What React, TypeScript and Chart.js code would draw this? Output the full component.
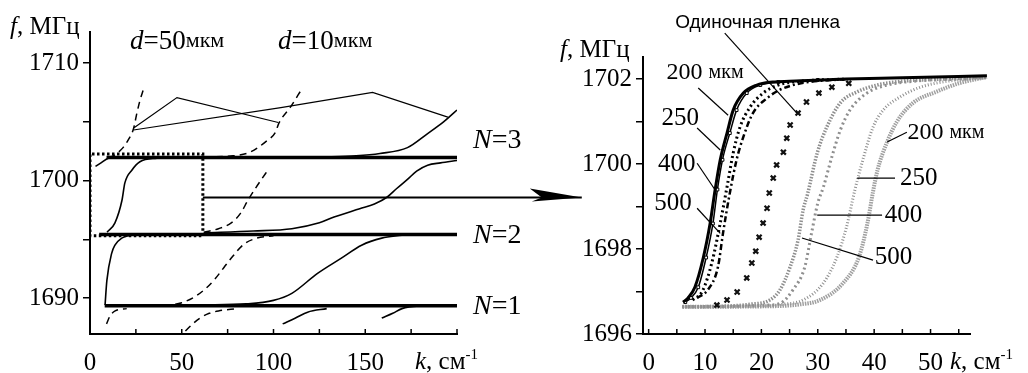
import React, { useEffect, useRef } from "react";
import { Chart, registerables } from "chart.js";
Chart.register(...registerables);

// ---------------- Left panel data (k, см^-1 ; f, МГц) ----------------
const L_X_TICKS = [0, 25, 50, 75, 100, 125, 150, 175, 200];
const L_X_LABELS = [0, 50, 100, 150];
const L_Y_TICKS = [1690, 1695, 1700, 1705, 1710];
const L_Y_LABELS = [1690, 1700, 1710];

const n3K = [9, 200];
const n3F = [1701.95, 1701.95];
const n2K = [5, 200];
const n2F = [1695.4, 1695.4];
const n1K = [8, 200];
const n1F = [1689.35, 1689.35];

const rectK = [61.5, 61.5, 0, 0, 61.5];
const rectF = [1695.3, 1702.25, 1702.25, 1695.3, 1695.3];

const arrowK = [61.5, 268];
const arrowF = [1698.55, 1698.55];

const s1K = [8.2, 9.2, 11.8, 13.6, 17.3, 23.6];
const s1F = [1689.4, 1691.5, 1693.8, 1694.5, 1695.1, 1695.4];
const s2K = [9.3, 13.6, 17.4, 19, 22.9, 27.2, 36.5, 50];
const s2F = [1695.6, 1696.4, 1698.3, 1699.8, 1700.9, 1701.6, 1701.9, 1702.0];
const s3K = [3, 6, 10, 14];
const s3F = [1701.2, 1701.5, 1701.9, 1702.0];
const d1K = [10, 12.6, 18, 21, 23.7, 25.5, 27.2, 29];
const d1F = [1702.0, 1702.1, 1702.8, 1703.5, 1704.4, 1705.7, 1706.8, 1707.7];
const l1K = [24, 47.4, 102.6];
const l1F = [1704.5, 1707.06, 1704.94];
const l2K = [23.7, 104, 154, 195];
const l2F = [1704.3, 1706.2, 1707.5, 1705.4];
const d2K = [62, 78, 87, 96.5, 101, 103, 109, 115.5];
const d2F = [1702.0, 1702.1, 1702.4, 1703.4, 1704.1, 1704.9, 1706.2, 1707.8];
const s4K = [125, 145, 158, 173, 184, 192, 200];
const s4F = [1702.0, 1702.1, 1702.3, 1702.8, 1704.0, 1704.9, 1706.0];
const s5K = [62, 89, 110, 125, 133, 147, 155, 162, 167, 173, 178, 184, 191, 200];
const s5F = [1695.55, 1695.7, 1695.9, 1696.4, 1696.9, 1697.6, 1698.0, 1698.6, 1699.3, 1700.1, 1700.8, 1701.3, 1701.5, 1701.7];
const d3K = [62, 70, 77, 82, 86, 90, 93, 97];
const d3F = [1695.6, 1695.9, 1696.4, 1697.2, 1698.3, 1699.3, 1700.0, 1700.9];
const s6K = [60, 85, 100, 110, 124, 137, 148, 159, 170];
const s6F = [1689.4, 1689.5, 1689.8, 1690.4, 1692.1, 1693.4, 1694.5, 1695.1, 1695.35];
const d4K = [40, 50, 57, 63, 68, 73, 77, 84, 91, 100];
const d4F = [1689.3, 1689.6, 1690.1, 1690.8, 1691.6, 1692.6, 1693.4, 1694.6, 1695.1, 1695.3];
const d5K = [9, 11, 13.7, 20];
const d5F = [1687.8, 1688.5, 1688.9, 1689.1];
const d6K = [52, 56, 60, 65, 70, 80];
const d6F = [1687.2, 1687.8, 1688.3, 1688.7, 1688.9, 1689.1];
const s7K = [105, 112, 118.6, 129];
const s7F = [1687.8, 1688.3, 1688.8, 1689.1];
const s8K = [159, 165, 170, 184];
const s8F = [1688.3, 1688.7, 1689.1, 1689.4];

// ---------------- Right panel data ----------------
const R_X_TICKS = [0, 5, 10, 15, 20, 25, 30, 35, 40, 45, 50, 55];
const R_X_LABELS = [0, 10, 20, 30, 40, 50];
const R_Y_TICKS = [1696, 1697, 1698, 1699, 1700, 1701, 1702];
const R_Y_LABELS = [1696, 1698, 1700, 1702];

const b200K = [6.1, 7, 8.2, 9.7, 10.9, 11.8, 12.7, 13.9, 15.0, 16.8, 19.2, 22, 25, 35, 45, 60];
const b200F = [1696.75, 1696.85, 1697.1, 1697.8, 1698.6, 1699.4, 1700.1, 1700.73, 1701.27, 1701.67, 1701.86, 1701.93, 1701.95, 1702.0, 1702.03, 1702.08];
const b250K = [6.5, 7.5, 8.8, 10.2, 11.4, 12.2, 13.1, 14.4, 15.6, 17.4, 19.8, 23, 30];
const b250F = [1696.75, 1696.85, 1697.1, 1697.8, 1698.6, 1699.4, 1700.1, 1700.73, 1701.27, 1701.67, 1701.86, 1701.93, 1701.98];
const b400K = [7.8, 9.5, 11.2, 12.7, 13.9, 15.0, 16.2, 18.0, 20.3, 23, 27, 35];
const b400F = [1696.8, 1697.0, 1697.67, 1698.61, 1699.46, 1700.26, 1700.87, 1701.34, 1701.67, 1701.86, 1701.95, 1702.0];
const b500K = [8.6, 10.5, 12.3, 13.2, 14.4, 15.6, 16.8, 18.5, 21, 23.3, 27, 35];
const b500F = [1696.85, 1697.04, 1697.58, 1698.38, 1699.32, 1700.1, 1700.64, 1701.2, 1701.55, 1701.75, 1701.9, 1702.0];
const singleK = [12.1, 13.9, 15.7, 17.4, 18.3, 19.0, 19.6, 20.3, 21.0, 21.4, 22.1, 22.7, 23.9, 24.5, 25.1, 26.5, 28.0, 30.2, 32.5, 35.5];
const singleF = [1696.68, 1696.8, 1696.99, 1697.32, 1697.67, 1697.95, 1698.28, 1698.61, 1698.96, 1699.32, 1699.67, 1699.98, 1700.28, 1700.61, 1700.92, 1701.2, 1701.46, 1701.67, 1701.81, 1701.9];
const g500K = [6, 12, 18, 21.5, 23.3, 25.1, 26.5, 27.4, 28.2, 29.9, 31.6, 34, 37, 40.5, 45, 52, 60];
const g500F = [1696.64, 1696.65, 1696.7, 1696.8, 1697.04, 1697.58, 1698.21, 1698.92, 1699.3, 1700.26, 1700.87, 1701.44, 1701.7, 1701.86, 1701.95, 1702.0, 1702.05];
const g400K = [6, 15, 21, 23.3, 25.6, 27.7, 28.9, 30, 31, 32.5, 34, 35.7, 38.7, 42, 48, 55, 60];
const g400F = [1696.64, 1696.65, 1696.68, 1696.72, 1697.04, 1697.58, 1698.38, 1699.08, 1699.46, 1700.17, 1700.8, 1701.27, 1701.67, 1701.85, 1701.96, 1702.0, 1702.04];
const g250K = [6, 18, 24, 27.4, 31, 33.4, 35.1, 36.6, 38, 39.8, 41.6, 44.6, 48, 53, 60];
const g250F = [1696.64, 1696.65, 1696.7, 1696.8, 1697.2, 1697.81, 1698.52, 1699.4, 1700.1, 1700.87, 1701.27, 1701.58, 1701.8, 1701.95, 1702.03];
const g200K = [6, 20, 27, 30.4, 34.5, 37.3, 38.8, 39.8, 40.6, 42.3, 44, 46.9, 51, 55, 60];
const g200F = [1696.64, 1696.65, 1696.7, 1696.8, 1697.2, 1697.81, 1698.6, 1699.35, 1699.86, 1700.52, 1700.99, 1701.44, 1701.7, 1701.9, 1702.05];

// callout leader lines [k0, k1], [f0, f1]
const cSingleK = [13.5, 26.3];
const cSingleF = [1703.08, 1701.2];
const c200K = [8.8, 14.1];
const c200F = [1701.79, 1701.15];
const c250K = [8.6, 12.7];
const c250F = [1700.85, 1700.33];
const c400K = [8.6, 11.8];
const c400F = [1700.02, 1699.39];
const c500K = [8.6, 12.7];
const c500F = [1698.96, 1698.37];
const cg200K = [45.8, 42.3];
const cg200F = [1700.75, 1700.52];
const cg250K = [37.0, 43.7];
const cg250F = [1699.67, 1699.67];
const cg400K = [29.9, 41.4];
const cg400F = [1698.8, 1698.8];
const cg500K = [27.2, 39.8];
const cg500F = [1698.26, 1697.74];

const SERIF = '"Liberation Serif", "Times New Roman", serif';
const SANS = '"Liberation Sans", Arial, sans-serif';

type Part = { t: string; it?: boolean; size?: number; dy?: number; fam?: string };

function drawParts(ctx: CanvasRenderingContext2D, x: number, y: number, parts: Part[], align: string) {
  const font = (p: Part) => `${p.it ? "italic " : ""}${p.size || 25}px ${p.fam || SERIF}`;
  let total = 0;
  const widths = parts.map((p) => {
    ctx.font = font(p);
    const w = ctx.measureText(p.t).width;
    total += w;
    return w;
  });
  let cx = align === "center" ? x - total / 2 : align === "right" ? x - total : x;
  ctx.textBaseline = "middle";
  ctx.textAlign = "left";
  ctx.fillStyle = "#000";
  parts.forEach((p, i) => {
    ctx.font = font(p);
    ctx.fillText(p.t, cx, y + (p.dy || 0));
    cx += widths[i];
  });
}

const pts = (k: number[], f: number[]) => k.map((x, i) => ({ x, y: f[i] }));

function line(k: number[], f: number[], opts: any = {}) {
  return {
    data: pts(k, f),
    showLine: true,
    pointRadius: 0,
    borderColor: "#000",
    backgroundColor: "#000",
    borderWidth: 1.5,
    cubicInterpolationMode: "monotone",
    ...opts,
  };
}

function axes(xmin: number, xmax: number, ymin: number, ymax: number, xt: number[], xl: number[], yt: number[], yl: number[], yWidth: number) {
  return {
    x: {
      type: "linear",
      min: xmin,
      max: xmax,
      afterBuildTicks: (s: any) => {
        s.ticks = xt.map((v) => ({ value: v }));
      },
      afterFit: (s: any) => {
        s.height = 39;
      },
      ticks: {
        autoSkip: false,
        maxRotation: 0,
        padding: 14,
        color: "#000",
        font: { family: SERIF, size: 25 },
        callback: (v: number) => (xl.includes(v) ? String(v) : ""),
      },
      grid: { display: true, drawOnChartArea: false, drawTicks: false, color: "#000" },
      border: { display: true, color: "#000", width: 2 },
    },
    y: {
      type: "linear",
      min: ymin,
      max: ymax,
      afterBuildTicks: (s: any) => {
        s.ticks = yt.map((v) => ({ value: v }));
      },
      afterFit: (s: any) => {
        s.width = yWidth;
      },
      ticks: {
        autoSkip: false,
        padding: 4,
        color: "#000",
        font: { family: SERIF, size: 25 },
        callback: (v: number) => (yl.includes(v) ? String(v) : ""),
      },
      grid: { display: true, drawOnChartArea: false, drawTicks: true, tickLength: 7, color: "#000", lineWidth: 1.5 },
      border: { display: true, color: "#000", width: 2 },
    },
  };
}

function innerXTicks(chart: any, ticks: number[]) {
  const ctx = chart.ctx;
  const x = chart.scales.x;
  const b = chart.chartArea.bottom;
  ctx.save();
  ctx.strokeStyle = "#000";
  ctx.lineWidth = 1.5;
  ticks.forEach((v) => {
    const px = x.getPixelForValue(v);
    ctx.beginPath();
    ctx.moveTo(px, b);
    ctx.lineTo(px, b - 5);
    ctx.stroke();
  });
  ctx.restore();
}

function LeftChart() {
  const ref = useRef<HTMLCanvasElement>(null);
  useEffect(() => {
    const solid = { borderWidth: 1.6 };
    const dashed = { borderWidth: 1.5, borderDash: [7, 5] };
    const plugin = {
      id: "leftDeco",
      afterDatasetsDraw(chart: any) {
        const ctx = chart.ctx;
        const xs = chart.scales.x;
        const ys = chart.scales.y;
        const ca = chart.chartArea;
        innerXTicks(chart, L_X_TICKS);
        const tx = xs.getPixelForValue(arrowK[1]);
        const ty = ys.getPixelForValue(arrowF[1]);
        ctx.save();
        ctx.fillStyle = "#000";
        ctx.beginPath();
        ctx.moveTo(tx, ty);
        ctx.lineTo(tx - 52, ty - 9);
        ctx.lineTo(tx - 40, ty);
        ctx.lineTo(tx - 50, ty + 4);
        ctx.closePath();
        ctx.fill();
        ctx.restore();
        const P = (k: number, f: number) => [xs.getPixelForValue(k), ys.getPixelForValue(f)];
        ctx.save();
        let [x, y] = P(21.8, 1711.83);
        drawParts(ctx, x, y, [{ t: "d", it: true, size: 27 }, { t: "=50", size: 27 }, { t: "мкм", size: 22 }], "left");
        [x, y] = P(102.5, 1711.83);
        drawParts(ctx, x, y, [{ t: "d", it: true, size: 27 }, { t: "=10", size: 27 }, { t: "мкм", size: 22 }], "left");
        [x, y] = P(208.7, 1703.4);
        drawParts(ctx, x, y, [{ t: "N", it: true, size: 28 }, { t: "=3", size: 28 }], "left");
        [x, y] = P(208.7, 1695.3);
        drawParts(ctx, x, y, [{ t: "N", it: true, size: 28 }, { t: "=2", size: 28 }], "left");
        [x, y] = P(208.7, 1689.3);
        drawParts(ctx, x, y, [{ t: "N", it: true, size: 28 }, { t: "=1", size: 28 }], "left");
        drawParts(ctx, ca.left - 80, ca.top - 5, [{ t: "f", it: true }, { t: ", МГц" }], "left");
        drawParts(ctx, ca.right - 42, ca.bottom + 28, [{ t: "k", it: true }, { t: ", см" }, { t: "-1", size: 15, dy: -7 }], "left");
        ctx.restore();
      },
    };
    const chart = new Chart(ref.current as HTMLCanvasElement, {
      type: "scatter",
      data: {
        datasets: [
          line(n3K, n3F, { borderWidth: 3.5 }),
          line(n2K, n2F, { borderWidth: 3.5 }),
          line(n1K, n1F, { borderWidth: 3.5 }),
          line(rectK, rectF, { borderWidth: 3, borderDash: [2.5, 2.5], cubicInterpolationMode: "default", tension: 0 }),
          line(arrowK, arrowF, { borderWidth: 2, clip: false, cubicInterpolationMode: "default" }),
          line(s1K, s1F, solid),
          line(s2K, s2F, solid),
          line(s3K, s3F, solid),
          line(d1K, d1F, dashed),
          line(l1K, l1F, { borderWidth: 1.2, cubicInterpolationMode: "default", tension: 0 }),
          line(l2K, l2F, { borderWidth: 1.2, cubicInterpolationMode: "default", tension: 0 }),
          line(d2K, d2F, dashed),
          line(s4K, s4F, solid),
          line(s5K, s5F, solid),
          line(d3K, d3F, dashed),
          line(s6K, s6F, solid),
          line(d4K, d4F, dashed),
          line(d5K, d5F, dashed),
          line(d6K, d6F, dashed),
          line(s7K, s7F, solid),
          line(s8K, s8F, solid),
        ],
      },
      options: {
        animation: false,
        responsive: false,
        events: [],
        layout: { padding: { top: 32, right: 143, left: 0, bottom: 0 } },
        plugins: { legend: { display: false }, tooltip: { enabled: false } },
        scales: axes(0, 200, 1686.94, 1712.64, L_X_TICKS, L_X_LABELS, L_Y_TICKS, L_Y_LABELS, 90) as any,
      } as any,
      plugins: [plugin],
    });
    return () => chart.destroy();
  }, []);
  return <canvas ref={ref} width={600} height={373} style={{ position: "absolute", left: 0, top: 0, width: 600, height: 373 }} />;
}

function RightChart() {
  const ref = useRef<HTMLCanvasElement>(null);
  useEffect(() => {
    const gray = "#8f8f8f";
    const lead = { borderWidth: 1.2, clip: false, cubicInterpolationMode: "default", tension: 0 };
    const plugin = {
      id: "rightDeco",
      afterDatasetsDraw(chart: any) {
        const ctx = chart.ctx;
        const xs = chart.scales.x;
        const ys = chart.scales.y;
        const ca = chart.chartArea;
        innerXTicks(chart, R_X_TICKS);
        const P = (k: number, f: number) => [xs.getPixelForValue(k), ys.getPixelForValue(f)];
        ctx.save();
        let [x, y] = P(4.7, 1703.32);
        drawParts(ctx, x, y, [{ t: "Одиночная пленка", size: 19, fam: SANS }], "left");
        [x, y] = P(10, 1702.16);
        drawParts(ctx, x, y, [{ t: "200 ", size: 24 }, { t: "мкм", size: 20 }], "center");
        [x, y] = P(5.6, 1701.08);
        drawParts(ctx, x, y, [{ t: "250" }], "center");
        [x, y] = P(5.0, 1700.0);
        drawParts(ctx, x, y, [{ t: "400" }], "center");
        [x, y] = P(4.3, 1699.08);
        drawParts(ctx, x, y, [{ t: "500" }], "center");
        [x, y] = P(45.9, 1700.73);
        drawParts(ctx, x, y, [{ t: "200 ", size: 24 }, { t: "мкм", size: 20 }], "left");
        [x, y] = P(44.6, 1699.67);
        drawParts(ctx, x, y, [{ t: "250" }], "left");
        [x, y] = P(41.9, 1698.8);
        drawParts(ctx, x, y, [{ t: "400" }], "left");
        [x, y] = P(40.1, 1697.81);
        drawParts(ctx, x, y, [{ t: "500" }], "left");
        drawParts(ctx, ca.left - 83, ca.top - 7, [{ t: "f", it: true }, { t: ", МГц" }], "left");
        drawParts(ctx, ca.right - 20, ca.bottom + 28, [{ t: "k", it: true }, { t: ", см" }, { t: "-1", size: 15, dy: -7 }], "left");
        ctx.restore();
      },
    };
    const chart = new Chart(ref.current as HTMLCanvasElement, {
      type: "scatter",
      data: {
        datasets: [
          line(cSingleK, cSingleF, lead),
          line(c200K, c200F, lead),
          line(c250K, c250F, lead),
          line(c400K, c400F, lead),
          line(c500K, c500F, lead),
          line(cg200K, cg200F, lead),
          line(cg250K, cg250F, lead),
          line(cg400K, cg400F, lead),
          line(cg500K, cg500F, lead),
          line(b200K, b200F, { borderWidth: 3, clip: false }),
          line(b250K, b250F, { borderWidth: 1.5, pointRadius: 2, pointStyle: "rect", pointBackgroundColor: "#fff", pointBorderWidth: 1 }),
          line(b400K, b400F, { borderWidth: 3, borderDash: [2, 3] }),
          line(b500K, b500F, { borderWidth: 2.5, borderDash: [6, 3, 2, 3] }),
          {
            data: pts(singleK, singleF),
            showLine: false,
            pointStyle: "crossRot",
            pointRadius: 3.5,
            pointBorderWidth: 2.2,
            borderColor: "#111",
            backgroundColor: "#111",
          },
          line(g500K, g500F, { borderColor: gray, borderWidth: 3.5, borderDash: [1.5, 1.5], clip: false }),
          line(g400K, g400F, { borderColor: gray, borderWidth: 3, borderDash: [2, 3], clip: false }),
          line(g250K, g250F, { borderColor: gray, borderWidth: 3, borderDash: [1, 2], clip: false }),
          line(g200K, g200F, { borderColor: "#a0a0a0", borderWidth: 4, borderDash: [1.5, 1], clip: false }),
        ],
      },
      options: {
        animation: false,
        responsive: false,
        events: [],
        layout: { padding: { top: 57, right: 58, left: 0, bottom: 0 } },
        plugins: { legend: { display: false }, tooltip: { enabled: false } },
        scales: axes(-1, 57, 1696, 1702.52, R_X_TICKS, R_X_LABELS, R_Y_TICKS, R_Y_LABELS, 83) as any,
      } as any,
      plugins: [plugin],
    });
    return () => chart.destroy();
  }, []);
  return <canvas ref={ref} width={468} height={373} style={{ position: "absolute", left: 560, top: 0, width: 468, height: 373 }} />;
}

export default function App() {
  return (
    <div style={{ position: "absolute", left: 0, top: 0, width: 1028, height: 373, background: "#fff", overflow: "hidden" }}>
      <LeftChart />
      <RightChart />
    </div>
  );
}
